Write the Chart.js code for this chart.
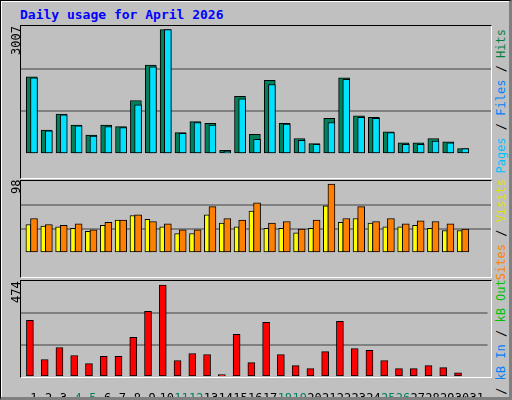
<!DOCTYPE html>
<html><head><meta charset="utf-8">
<script src="https://cdn.jsdelivr.net/npm/chart.js@4/dist/chart.umd.min.js"></script>
<style>
body{margin:0;background:#fff;overflow:hidden}
#wrap{position:absolute;left:0;top:0;width:508px;height:396px;background:#c0c0c0;border:1px solid #000;border-right:3px solid #808080;border-bottom:3px solid #808080;box-shadow:inset 1px 1px 0 #fff;font-family:"DejaVu Sans Mono",monospace;overflow:hidden}
.frame{position:absolute;border-top:1px solid #000;border-left:1px solid #000;border-bottom:1px solid #fff;border-right:1px solid #fff}
.rot{position:absolute;transform-origin:0 0;transform:rotate(-90deg);white-space:nowrap;font-size:12px;line-height:12px;font-family:"DejaVu Sans Mono",monospace}
#title{position:absolute;left:19px;top:6px;color:#0000ff;font-weight:bold;font-size:13px;font-family:"DejaVu Sans Mono",monospace}
canvas{position:absolute;left:0;top:0}
</style></head><body>
<div id="wrap">
<div id="title">Daily usage for April 2026</div>
<div class="frame" style="left:19px;top:24px;width:470px;height:152px"><canvas id="c1" width="470" height="152"></canvas></div>
<div class="frame" style="left:19px;top:179px;width:470px;height:96px"><canvas id="c2" width="470" height="96"></canvas></div>
<div class="frame" style="left:19px;top:279px;width:470px;height:96px"><canvas id="c3" width="470" height="120"></canvas></div>
<div class="rot" style="left:9px;top:54px;width:30px;text-align:left">3007</div>
<div class="rot" style="left:9px;top:193px;width:20px">98</div>
<div class="rot" style="left:9px;top:302px;width:30px">474</div>
<div class="rot" style="left:494px;top:178px;width:150px;text-align:right"><span style="color:#00c0ff">Pages</span> / <span style="color:#0080ff">Files</span> / <span style="color:#008040">Hits</span></div>
<div class="rot" style="left:494px;top:328px;width:150px;text-align:right"><span style="color:#ff8000">Sites</span> / <span style="color:#e0e000">Visits</span></div>
<div class="rot" style="left:494px;top:430px;width:150px;text-align:right"><span style="color:#ff0000">kB F</span> / <span style="color:#0080ff">kB In</span> / <span style="color:#00c000">kB Out</span></div>
</div>
<script>
const days=[1,2,3,4,5,6,7,8,9,10,11,12,13,14,15,16,17,18,19,20,21,22,23,24,25,26,27,28,29,30];
const dayLabels=["1","2","3","4","5","6","7","8","9","10","11","12","13","14","15","16","17","18","19","20","21","22","23","24","25","26","27","28","29","30","31"];
const weekendDays=[4,5,11,12,18,19,25,26];
const hits=[1864,578,966,701,456,701,660,1293,2150,3007,517,782,742,88,1395,476,1782,742,374,252,864,1844,925,884,537,272,272,374,293,129];
const files=[1844,558,946,680,435,660,639,1190,2109,3007,497,762,701,68,1333,354,1680,721,333,231,762,1803,884,864,517,231,231,313,272,129];
const visits=[40.5,38.4,37.3,35.2,30.9,39.4,46.9,53.3,47.9,37.3,27.7,27.7,54.3,42.6,37.3,59.7,35.2,35.2,28.8,35.2,67.1,43.7,49,42.6,37.3,37.3,39.4,35.2,32,32];
const sites=[49,40.5,39.4,41.5,33,43.7,46.9,54.3,44.7,41.5,33,33,66,49,46.9,71.4,42.6,44.7,34.1,46.9,98,49,66,44.7,49,41.5,45.8,44.7,41.5,34.1];
const kbytes=[292,90,152,111,69,106,106,204,339,474,85,121,116,12,220,74,282,116,59,43,131,287,147,137,85,43,43,59,48,22];

const XMIN=0.126,XMAX=31.73;
function pts(vals,off){return vals.map((v,i)=>({x:days[i]+off,y:v}));}
function ds(vals,off,w,color,order){return {data:pts(vals,off),order:order,backgroundColor:color,borderColor:'#000',borderWidth:1,borderSkipped:false,barThickness:w,grouped:false};}
function opts(max,showX){
  return {responsive:false,animation:false,events:[],
    layout:{padding:0},
    plugins:{legend:{display:false},tooltip:{enabled:false}},
    scales:{
      x:{type:'linear',offset:false,min:XMIN,max:XMAX,display:showX,
         grid:{display:false,offset:false},border:{display:false},
         afterBuildTicks:s=>{s.ticks=dayLabels.map((l,i)=>({value:i+1}));},
         afterFit:s=>{s.height=24;},
         ticks:{autoSkip:false,maxRotation:0,padding:7,font:{family:'DejaVu Sans Mono',size:12},
           callback:(v)=>dayLabels[v-1],
           color:c=>weekendDays.includes(c.tick.value)?'#008060':'#000'}},
      y:{min:0,max:max,afterBuildTicks:s=>{s.ticks=[0,1,2,3].map(k=>({value:max*k/3}));},
         ticks:{display:false},border:{display:false},
         grid:{drawTicks:false,color:c=>(c.index===1||c.index===2)?'#808080':'rgba(0,0,0,0)',lineWidth:2}}
    }};
}
new Chart(document.getElementById('c1'),{type:'bar',data:{datasets:[ds(hits,-0.148,11,'#00805c',1),ds(files,0,7,'#00e0ff',0)]},options:opts(3095,false)});
new Chart(document.getElementById('c2'),{type:'bar',data:{datasets:[ds(visits,-0.377,5,'#ffff00',1),ds(sites,0,7,'#ff8000',0)]},options:opts(102.3,false)});
new Chart(document.getElementById('c3'),{type:'bar',data:{datasets:[ds(kbytes,-0.27,7,'#ff0000',0)]},options:opts(494.8,true)});
</script>
</body></html>
